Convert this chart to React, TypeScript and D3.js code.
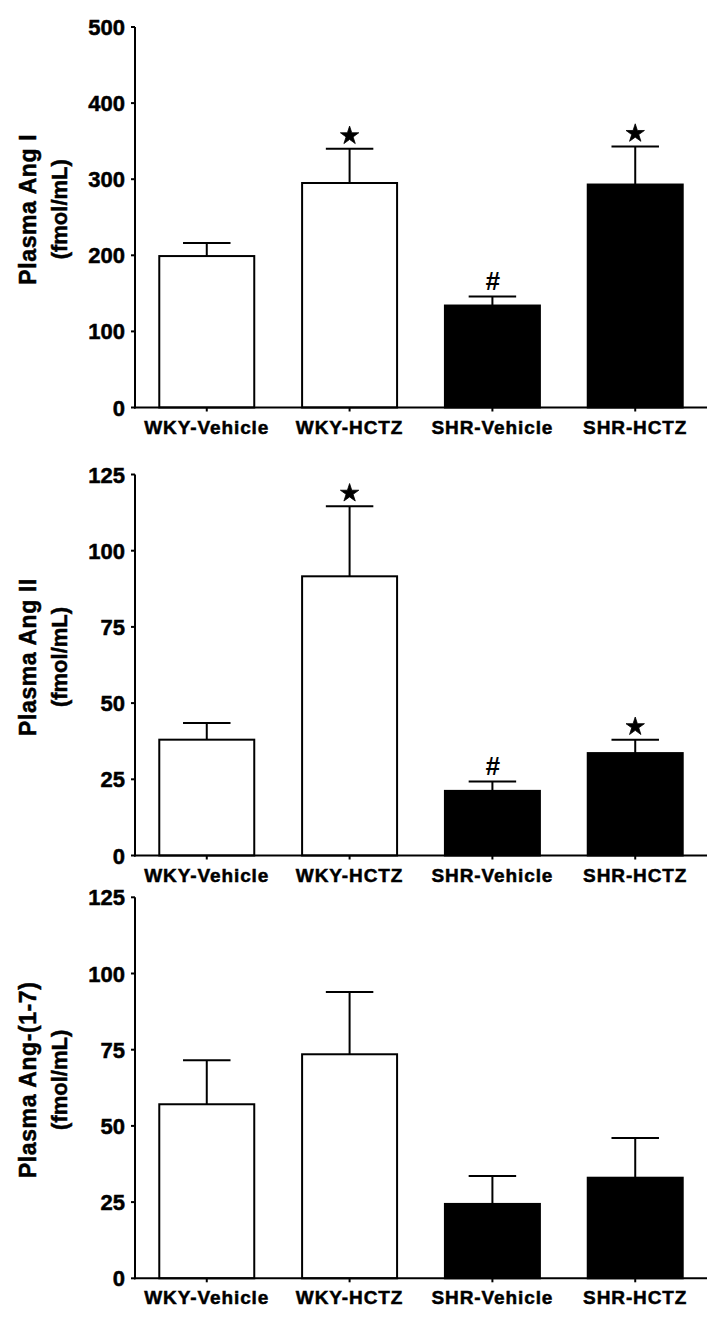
import React from "react";
import * as d3 from "d3";

const categories = ["WKY-Vehicle", "WKY-HCTZ", "SHR-Vehicle", "SHR-HCTZ"];
const barFills = ["#ffffff", "#ffffff", "#000000", "#000000"];

const angIMean = [199, 295, 134, 293];
const angIErr = [17, 45, 12, 50];
const angIMarks = ["", "star", "#", "star"];
const angITicks = [0, 100, 200, 300, 400, 500];

const angIIMean = [38, 91.6, 21.2, 33.6];
const angIIErr = [5.5, 23, 3.1, 4.4];
const angIIMarks = ["", "star", "#", "star"];
const angIITicks = [0, 25, 50, 75, 100, 125];

const ang17Mean = [57.1, 73.5, 24.4, 33.0];
const ang17Err = [14.4, 20.4, 9.2, 13];
const ang17Marks = ["", "", "", ""];
const ang17Ticks = [0, 25, 50, 75, 100, 125];

const panels = [
  { title: "Plasma Ang I", unit: "(fmol/mL)", mean: angIMean, err: angIErr, marks: angIMarks, ticks: angITicks, max: 500, top: 27, bottom: 407.5 },
  { title: "Plasma Ang II", unit: "(fmol/mL)", mean: angIIMean, err: angIIErr, marks: angIIMarks, ticks: angIITicks, max: 125, top: 474.5, bottom: 855.5 },
  { title: "Plasma Ang-(1-7)", unit: "(fmol/mL)", mean: ang17Mean, err: ang17Err, marks: ang17Marks, ticks: ang17Ticks, max: 125, top: 897.3, bottom: 1278.3 },
];

const AXIS_X = 135;
const AXIS_END = 707;
const FONT = "'Liberation Sans', Arial, sans-serif";

const x = d3.scaleBand<string>().domain(categories).range([AXIS_X, AXIS_END]).paddingInner(0.335).paddingOuter(0.17);
const starPath = d3.symbol().type(d3.symbolStar).size(105)() as string;

function Panel({ p }: { p: (typeof panels)[number] }) {
  const y = d3.scaleLinear().domain([0, p.max]).range([p.bottom, p.top]);
  const bw = x.bandwidth();
  const midY = (p.top + p.bottom) / 2 - 8;
  return (
    <g>
      <g transform={`translate(0,${midY}) rotate(-90)`}>
        <text x={0} y={36} textAnchor="middle" fontFamily={FONT} fontWeight="bold" fontSize={23} letterSpacing={0.6} stroke="#000" strokeWidth={0.5}>{p.title}</text>
        <text x={0} y={67} textAnchor="middle" fontFamily={FONT} fontWeight="bold" fontSize={22} stroke="#000" strokeWidth={0.5}>{p.unit}</text>
      </g>
      {categories.map((c, i) => {
        const x0 = x(c)!;
        const cx = x0 + bw / 2;
        const yTop = y(p.mean[i]);
        const yErr = y(p.mean[i] + p.err[i]);
        const m = p.marks[i];
        return (
          <g key={c}>
            <line x1={cx} x2={cx} y1={yTop} y2={yErr} stroke="#000" strokeWidth={2} />
            <line x1={cx - bw / 4} x2={cx + bw / 4} y1={yErr} y2={yErr} stroke="#000" strokeWidth={2} />
            <rect x={x0} y={yTop} width={bw} height={p.bottom - yTop} fill={barFills[i]} stroke="#000" strokeWidth={2} />
            {m === "star" && <path d={starPath} transform={`translate(${cx},${yErr - 13})`} fill="#000" stroke="#000" strokeWidth={0.8} />}
            {m === "#" && (
              <text x={cx} y={yErr - 6} textAnchor="middle" fontFamily={FONT} fontSize={26} fontWeight="bold" fontStyle="italic">#</text>
            )}
            <line x1={cx} x2={cx} y1={p.bottom} y2={p.bottom + 4} stroke="#000" strokeWidth={2} />
            <text x={cx} y={p.bottom + 26} textAnchor="middle" fontFamily={FONT} fontWeight="bold" fontSize={19} letterSpacing={0.9} stroke="#000" strokeWidth={0.5}>{c}</text>
          </g>
        );
      })}
      <line x1={AXIS_X} x2={AXIS_X} y1={p.top} y2={p.bottom + 1} stroke="#000" strokeWidth={2} />
      {p.ticks.map((t) => (
        <g key={t}>
          <line x1={AXIS_X - 4} x2={AXIS_X} y1={y(t)} y2={y(t)} stroke="#000" strokeWidth={2} />
          <text x={125} y={y(t) + 8} textAnchor="end" fontFamily={FONT} fontWeight="bold" fontSize={22} stroke="#000" strokeWidth={0.5}>{t}</text>
        </g>
      ))}
      <line x1={AXIS_X - 1} x2={AXIS_END} y1={p.bottom} y2={p.bottom} stroke="#000" strokeWidth={2} />
    </g>
  );
}

export default function App() {
  return (
    <svg width={726} height={1325} style={{ position: "absolute", left: 0, top: 0, background: "#fff" }}>
      <rect x={0} y={0} width={726} height={1325} fill="#fff" />
      {panels.map((p) => (
        <Panel key={p.title} p={p} />
      ))}
    </svg>
  );
}
